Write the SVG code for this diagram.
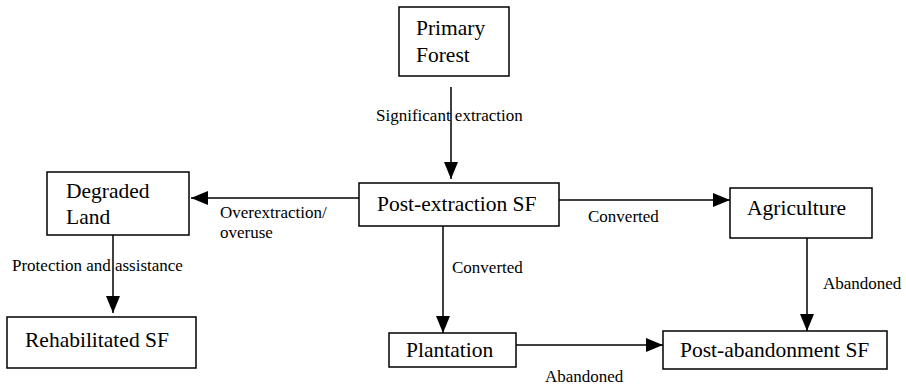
<svg xmlns="http://www.w3.org/2000/svg" width="906" height="385" viewBox="0 0 906 385">
<style>
.box{fill:#fff;stroke:#000;stroke-width:1.5}
.nt{font-family:"Liberation Serif","Times New Roman",serif;font-size:21.5px;fill:#000}
.lt{font-family:"Liberation Serif","Times New Roman",serif;font-size:17px;fill:#000}
.edge{stroke:#000;stroke-width:1.5;fill:none;marker-end:url(#ah)}
</style>
<defs>
<marker id="ah" markerUnits="userSpaceOnUse" markerWidth="18" markerHeight="16" viewBox="0 0 18 16" refX="17" refY="8" orient="auto">
<path d="M0,1 L17,8 L0,15 Z" fill="#000"/>
</marker>
</defs>
<rect width="906" height="385" fill="#fff"/>
<g id="connectors">
<line class="edge" x1="451" y1="87" x2="451" y2="179"/>
<line class="edge" x1="359" y1="198" x2="191" y2="198"/>
<line class="edge" x1="559" y1="200" x2="730" y2="200"/>
<line class="edge" x1="443" y1="226" x2="443" y2="333"/>
<line class="edge" x1="807" y1="238" x2="807" y2="331"/>
<line class="edge" x1="113" y1="235" x2="113" y2="313"/>
<line class="edge" x1="516" y1="345" x2="663" y2="345"/>
<text class="lt" x="376" y="121">Significant extraction</text>
<text class="lt" x="220" y="218">Overextraction/</text>
<text class="lt" x="220" y="238">overuse</text>
<text class="lt" x="588" y="222">Converted</text>
<text class="lt" x="452" y="273">Converted</text>
<text class="lt" x="823" y="289">Abandoned</text>
<text class="lt" x="12" y="271">Protection and assistance</text>
<text class="lt" x="545" y="382">Abandoned</text>
</g>
<g id="primary-forest">
<rect class="box" x="399" y="7" width="110" height="69"/>
<text class="nt" x="416" y="35">Primary</text>
<text class="nt" x="416" y="62">Forest</text>
</g>
<g id="post-extraction-sf">
<rect class="box" x="359" y="183" width="200" height="43"/>
<text class="nt" x="377" y="211">Post-extraction SF</text>
</g>
<g id="degraded-land">
<rect class="box" x="47" y="172" width="142" height="63"/>
<text class="nt" x="66" y="198">Degraded</text>
<text class="nt" x="66" y="224">Land</text>
</g>
<g id="agriculture">
<rect class="box" x="730" y="188" width="142" height="50"/>
<text class="nt" x="747" y="215">Agriculture</text>
</g>
<g id="rehabilitated-sf">
<rect class="box" x="7" y="317" width="189" height="51"/>
<text class="nt" x="25" y="347">Rehabilitated SF</text>
</g>
<g id="plantation">
<rect class="box" x="389" y="333" width="127" height="34"/>
<text class="nt" x="406" y="357">Plantation</text>
</g>
<g id="post-abandonment-sf">
<rect class="box" x="663" y="331" width="224" height="38"/>
<text class="nt" x="680" y="357">Post-abandonment SF</text>
</g>
</svg>
